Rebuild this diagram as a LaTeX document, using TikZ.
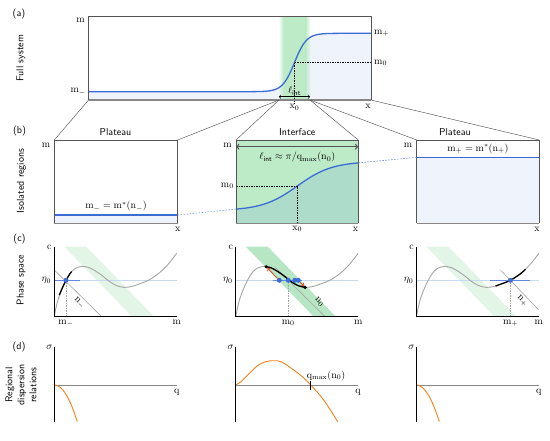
\documentclass[tikz,border=0pt]{standalone}
\usepackage{amsmath}
\usepackage{amssymb}
\usepackage{tikz}
\usetikzlibrary{calc}
\renewcommand{\familydefault}{\sfdefault}
\IfFileExists{sansmath.sty}{\usepackage{sansmath}\AtBeginDocument{\sansmath}}{}

\definecolor{curveblue}{RGB}{59,108,214}
\definecolor{fillblue}{RGB}{238,243,252}
\definecolor{etablue}{RGB}{200,216,238}
\definecolor{bandgreen}{RGB}{189,234,199}
\definecolor{lightband}{RGB}{226,245,231}
\definecolor{midband}{RGB}{183,230,196}
\definecolor{tealfill}{RGB}{173,220,203}
\definecolor{sigorange}{RGB}{247,128,28}
\definecolor{arrred}{RGB}{222,72,20}
\definecolor{edgegray}{RGB}{85,85,85}
\definecolor{axgray}{RGB}{135,135,135}
\definecolor{curvegray}{RGB}{165,165,165}

\begin{document}
\begin{tikzpicture}[x=1pt, y=-1pt,
		declare function={sig(\z)=1-2/(exp(2*max(-4,min(4,\z)))+1);},
		box/.style={draw=edgegray, line width=0.6pt},
		baseaxis/.style={axgray, line width=1.1pt},
		axis/.style={black, line width=0.9pt},
		mcurve/.style={curveblue, line width=1.3pt},
		zoomline/.style={edgegray, line width=0.45pt},
		link/.style={curveblue!70, line width=0.6pt, dash pattern=on 1.6pt off 1.4pt},
		guide/.style={black, line width=0.4pt, dash pattern=on 1.5pt off 1pt},
		greyguide/.style={curvegray, line width=0.5pt, dash pattern=on 1.5pt off 1pt},
		etaline/.style={etablue, line width=0.6pt},
		etaseg/.style={curveblue!80, line width=0.9pt},
		nline/.style={curvegray, line width=0.6pt},
		onset/.style={black, line width=1.3pt},
		growth/.style={sigorange, line width=0.9pt},
		lbl/.style={inner sep=1pt},
		sidelabel/.style={rotate=90, align=center, inner sep=0pt},
		bluedot/.style={circle, fill=curveblue, inner sep=0pt, minimum size=5pt},
		blackdot/.style={circle, fill=black, inner sep=0pt, minimum size=3.6pt},
		phasecurve/.pic={\draw[curvegray, line width=0.9pt] plot[smooth, tension=0.55] coordinates {(0,0) (1.5,-8) (4,-18) (7.5,-27.5) (11.7,-36.4) (16,-43.5) (21,-48.3) (28,-50.3) (35,-49) (42,-45.2) (49,-40.2) (55,-35.3) (62,-31.2) (70,-29.3) (78,-30.4) (86,-33.2) (94,-36.4) (104,-43) (113,-51.5) (122.4,-63.4)};}
		]
		\useasboundingbox (0,0) rectangle (550,440);

		% (a) full system
		\coordinate (A0) at (88.6,100);
		\coordinate (A1) at (371,16.7);
		\fill[fillblue] plot[domain=88.6:371, samples=150] (\x, {62.5-29.2*sig((\x-294.5)/12)}) -- (A1 |- A0) -- (A0) -- cycle;
		\fill[bandgreen] (283.5,16.7) rectangle (305.5,100);
		\shade[left color=white, right color=bandgreen] (278.5,16.7) rectangle (283.5,86);
		\shade[left color=fillblue, right color=bandgreen] (278.5,86) rectangle (283.5,100);
		\shade[left color=bandgreen, right color=white] (305.5,16.7) rectangle (310.5,38);
		\shade[left color=bandgreen, right color=fillblue] (305.5,38) rectangle (310.5,100);
		\draw[mcurve] plot[domain=88.6:371, samples=150] (\x, {62.5-29.2*sig((\x-294.5)/12)});
		\coordinate (A2) at (294.5,62.5);
		\draw[guide] (A2) -- (A2 -| A1);
		\draw[guide] (A2) -- (294.5,103);
		\draw[box] (A0) -- (A0 |- A1) -- (A1) -- (A1 |- A0);
		\draw[baseaxis] (A0) -- (A1 |- A0);
		\coordinate (A3) at (279,96.7);
		\coordinate (A4) at (310,96.7);
		\draw[<->, line width=0.6pt] (A3) -- (A4) node[midway, above, lbl](Aell){$\ell_{\text{int}}$};
		\node[lbl](Am) at (80.5,20){$m$};
		\node[lbl, anchor=east](Amm) at (87,91.7){$m_-$};
		\node[lbl, anchor=west](Amp) at (373,33.3){$m_+$};
		\node[lbl, anchor=west](Am0) at (373,63){$m_0$};
		\node[lbl](Ax0) at (294.5,107.5){$x_0$};
		\node[lbl](Ax) at (368,106.7){$x$};
		\node[lbl] at (19,14)(Ta){(a)};
		\node[sidelabel](Sa) at (21,58.3){Full system};

		% (b) isolated regions
		\coordinate (B1) at (54.3,140);
		\coordinate (B2) at (177.7,223.3);
		\coordinate (B3) at (236,140);
		\coordinate (B4) at (358.3,223.3);
		\coordinate (B5) at (416.7,140);
		\coordinate (B6) at (539.3,223.3);
		\draw[zoomline] (A0) -- (B1);
		\draw[zoomline] (A3 |- A0) -- (B1 -| B2);
		\draw[zoomline] (A3 |- A0) -- (B3);
		\draw[zoomline] (A4 |- A0) -- (B3 -| B4);
		\draw[zoomline] (A4 |- A0) -- (B5);
		\draw[zoomline] (A1 |- A0) -- (B5 -| B6);

		\fill[fillblue] (54.3,215) rectangle (B2);
		\draw[mcurve] (54.3,215) -- (177.7,215) node[midway, above=2pt, lbl, text=black](Bml){$m_- = m^{*}(n_-)$};
		\draw[box] (B2 |- B1) -- (B1) -- (B1 |- B2);
		\draw[box] (B2 |- B1) -- (B2);
		\draw[baseaxis] (B1 |- B2) -- (B2);

		\fill[bandgreen] (B3) rectangle (B4);
		\fill[tealfill] plot[domain=236:358.3, samples=80] (\x, {186-24.5*sig((\x-297.3)/35)}) -- (B4) -- (B3 |- B4) -- cycle;
		\draw[mcurve] plot[domain=236:358.3, samples=80] (\x, {186-24.5*sig((\x-297.3)/35)});
		\draw[guide] (236,186) -- (297.3,186) -- (297.3,223.3);
		\draw[<->, edgegray, line width=1.2pt] (236,146.7) -- (358.3,146.7);
		\node[lbl](Bell) at (297.3,157){$\ell_{\text{int}} \approx \pi/q_{\max}(n_0)$};
		\draw[box] (B4 |- B3) -- (B3) -- (B3 |- B4);
		\draw[box] (B4 |- B3) -- (B4);
		\draw[baseaxis] (B3 |- B4) -- (B4);

		\fill[fillblue] (416.7,157.3) rectangle (B6);
		\draw[mcurve] (416.7,157.3) -- (539.3,157.3) node[midway, above=2pt, lbl, text=black](Bmr){$m_+ = m^{*}(n_+)$};
		\draw[box] (B6 |- B5) -- (B5) -- (B5 |- B6);
		\draw[box] (B6 |- B5) -- (B6);
		\draw[baseaxis] (B5 |- B6) -- (B6);

		\draw[link] (177.7,215) -- (236,209.1);
		\draw[link] (358.3,162.9) -- (416.7,157.3);

		\node[lbl](Bt1) at (115.5,132.3){Plateau};
		\node[lbl](Bt2) at (297.3,132.3){Interface};
		\node[lbl](Bt3) at (455,132.3){Plateau};
		\node[lbl](Bm1) at (46,145){$m$};
		\node[lbl](Bm2) at (227.5,145){$m$};
		\node[lbl](Bm3) at (408,145){$m$};
		\node[lbl, anchor=east](Bm0) at (235,186){$m_0$};
		\node[lbl](Bx1) at (177.7,229){$x$};
		\node[lbl](Bx0) at (297.3,229){$x_0$};
		\node[lbl](Bx2) at (355.5,229){$x$};
		\node[lbl](Bx3) at (537,229){$x$};
		\node[lbl](Tb) at (19.5,130.5){(b)};
		\node[sidelabel](Sb) at (21.5,181){Isolated regions};

		% (c) phase space
		\begin{scope}[shift={(54.3,316.7)}]
			\fill[lightband] (10,-70) -- (32,-70) -- (100,0) -- (78,0) -- cycle;
			\draw[etaline] (0,-36.4) -- (122.4,-36.4);
			\draw[etaseg] (0,-36.4) -- (25.7,-36.4);
			\draw[nline] (0,-46.7) -- (47.4,0);
			\node[lbl, rotate=-45](Cn1) at (25,-13.5){$n_-$};
			\pic {phasecurve};
			\draw[onset] plot[smooth] coordinates {(5,-21.5) (7.5,-27.5) (11.7,-36.4) (16,-43.5) (17.4,-45)};
			\draw[greyguide] (11.7,-36.4) -- (11.7,0);
			\node[bluedot](C1) at (11.7,-36.4){};
			\draw[axis] (0,-70) -- (0,0) -- (122.4,0);
			\node[lbl](Cc1) at (-5,-69){$c$};
			\node[lbl, anchor=east](Ce1) at (-2,-36){$\eta_0$};
			\node[lbl, anchor=north](Cmm) at (11.7,2){$m_-$};
			\node[lbl, anchor=north](Cm1) at (122.4,2){$m$};
		\end{scope}

		\begin{scope}[shift={(235.8,316.7)}]
			\fill[midband] (10,-70) -- (32,-70) -- (100,0) -- (78,0) -- cycle;
			\draw[etaline] (0,-36.4) -- (122.4,-36.4);
			\draw[etaseg] (37,-36.4) -- (66,-36.4);
			\draw[nline] (39.3,-49.4) -- (89.3,0);
			\node[lbl, rotate=-45](Cn0) at (83.5,-14.5){$n_0$};
			\pic {phasecurve};
			\draw[onset] plot[smooth] coordinates {(30.3,-50) (35,-49) (42,-45.2) (49,-40.2) (55,-35.3) (62,-31.2) (69.3,-29.3)};
			\draw[greyguide] (52.5,-36.4) -- (52.5,0);
			\node[blackdot](Ck1) at (30.3,-50){};
			\node[blackdot](Ck2) at (69.3,-29.3){};
			\node[bluedot](Cb1) at (43.5,-36.4){};
			\node[bluedot](Cb2) at (52.5,-36.4){};
			\node[bluedot](Cb3) at (59,-36.4){};
			\node[bluedot](Cb4) at (62.5,-36.4){};
			\draw[->, arrred, line width=0.8pt] (Cb1) -- (Ck1);
			\draw[->, arrred, line width=0.8pt] (Cb4) -- (Ck2);
			\draw[axis] (0,-70) -- (0,0) -- (122.4,0);
			\node[lbl](Cc2) at (-5,-69){$c$};
			\node[lbl, anchor=east](Ce2) at (-2,-36){$\eta_0$};
			\node[lbl, anchor=north](Cm0) at (52.5,2){$m_0$};
			\node[lbl, anchor=north](Cm2) at (122.4,2){$m$};
		\end{scope}

		\begin{scope}[shift={(416.5,316.7)}]
			\fill[lightband] (10,-70) -- (32,-70) -- (100,0) -- (78,0) -- cycle;
			\draw[etaline] (0,-36.4) -- (122.4,-36.4);
			\draw[etaseg] (73.7,-36.4) -- (113.7,-36.4);
			\draw[nline] (84,-46.7) -- (122.3,-6.7);
			\node[lbl, rotate=-45](Cn2) at (105.8,-15.7){$n_+$};
			\pic {phasecurve};
			\draw[onset] plot[smooth] coordinates {(79,-30.6) (86,-33.2) (94,-36.4) (104,-43) (109,-47.4)};
			\draw[greyguide] (94,-36.4) -- (94,0);
			\node[bluedot](C3) at (94,-36.4){};
			\draw[axis] (0,-70) -- (0,0) -- (122.4,0);
			\node[lbl](Cc3) at (-5,-69){$c$};
			\node[lbl, anchor=east](Ce3) at (-2,-36){$\eta_0$};
			\node[lbl, anchor=north](Cmp) at (94,2){$m_+$};
			\node[lbl, anchor=north](Cm3) at (122.4,2){$m$};
		\end{scope}
		\node[lbl](Tc) at (19.5,238.5){(c)};
		\node[sidelabel](Sc) at (21,280){Phase space};

		% (d) dispersion relations
		\begin{scope}[shift={(54.3,385)}]
			\draw[axgray, line width=0.9pt] (0,0) -- (122.4,0);
			\draw[growth] plot[domain=0:23, samples=40] (\x, {36.7*(\x/23)^2});
			\draw[axis] (0,-38) -- (0,36.7);
			\node[lbl](Ds1) at (-5,-38){$\sigma$};
			\node[lbl, anchor=north](Dq1) at (122.4,2.5){$q$};
		\end{scope}
		\begin{scope}[shift={(235.7,385)}]
			\draw[axgray, line width=0.9pt] (0,0) -- (122.4,0);
			\draw[growth] plot[smooth, tension=0.6] coordinates {(0,0) (5,-3) (10,-8) (15,-13) (22,-19.5) (30,-23.3) (38,-24.3) (46,-23) (58,-15) (67,-8) (75,0) (88,15) (102,36.7)};
			\draw[black, line width=0.8pt] (75,-4) -- (75,5);
			\node[lbl, anchor=south west](Dqm) at (70,-3){$q_{\max}(n_0)$};
			\draw[axis] (0,-38) -- (0,36.7);
			\node[lbl](Ds2) at (-5,-38){$\sigma$};
			\node[lbl, anchor=north](Dq2) at (122.4,2.5){$q$};
		\end{scope}
		\begin{scope}[shift={(416.3,385)}]
			\draw[axgray, line width=0.9pt] (0,0) -- (122.4,0);
			\draw[growth] plot[domain=0:23, samples=40] (\x, {36.7*(\x/23)^2});
			\draw[axis] (0,-38) -- (0,36.7);
			\node[lbl](Ds3) at (-5,-38){$\sigma$};
			\node[lbl, anchor=north](Dq3) at (122.4,2.5){$q$};
		\end{scope}
		\node[lbl](Td) at (19,346.7){(d)};
		\node[sidelabel](Sd) at (21,385){Regional\\dispersion\\relations};
	\end{tikzpicture}
\end{document}
